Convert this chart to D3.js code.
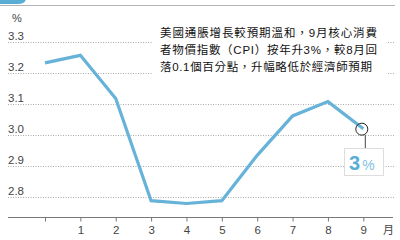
<!DOCTYPE html>
<html>
<head>
<meta charset="utf-8">
<script src="https://cdn.jsdelivr.net/npm/d3@7"></script>
<style>
  body { margin: 0; background: #fff; }
  text { font-family: "Liberation Sans", "Noto Sans CJK TC", sans-serif; }
</style>
</head>
<body>
<div id="chart"></div>
<script>
// Data: core CPI y/y, %, month 0 = previous December
var months = [0, 1, 2, 3, 4, 5, 6, 7, 8, 9];
var cpiValues = [3.233, 3.257, 3.118, 2.789, 2.780, 2.789, 2.935, 3.062, 3.108, 3.021];
var yTicks = [2.8, 2.9, 3.0, 3.1, 3.2, 3.3];
var yTickLabels = ["2.8", "2.9", "3.0", "3.1", "3.2", "3.3"];
var monthLabels = ["", "1", "2", "3", "4", "5", "6", "7", "8", "9"];
var noteLines = [
  "美國通脹增長較預期溫和，9月核心消費",
  "者物價指數（CPI）按年升3%，較8月回",
  "落0.1個百分點，升幅略低於經濟師預期"
];
var calloutValue = "3";

var svgWidth = 400;
var svgHeight = 240;

var svg = d3.select("#chart")
  .append("svg")
  .attr("width", svgWidth)
  .attr("height", svgHeight);

// Scales
var xScale = d3.scaleLinear().domain([0, 9]).range([45, 363.3]);
var yScale = d3.scaleLinear().domain([2.8, 3.3]).range([197.3, 42]);

var lineColor = "#66b2d8";

// Header decoration: blue tab and rule
svg.append("path")
  .attr("d", "M0,-10 H26 V-2 Q26,4 18,4 H0 Z")
  .attr("fill", "#5aaed6");
svg.append("line")
  .attr("x1", 0).attr("x2", 395)
  .attr("y1", 5.5).attr("y2", 5.5)
  .attr("stroke", "#b5b5b5")
  .attr("stroke-width", 1);

// Unit label
svg.append("text")
  .attr("x", 12).attr("y", 22)
  .attr("font-size", 11)
  .attr("fill", "#444")
  .text("%");

// Gridlines and y labels
svg.append("g").selectAll("line")
  .data(yTicks)
  .join("line")
  .attr("x1", 8).attr("x2", 395)
  .attr("y1", d => Math.round(yScale(d)) + 0.5)
  .attr("y2", d => Math.round(yScale(d)) + 0.5)
  .attr("stroke", "#aaa")
  .attr("stroke-width", 1)
  .attr("stroke-dasharray", "1,1.5");

svg.append("g").selectAll("text")
  .data(yTicks)
  .join("text")
  .attr("x", 8)
  .attr("y", d => yScale(d) - 2.5)
  .attr("font-size", 11.5)
  .attr("fill", "#444")
  .text((d, i) => yTickLabels[i]);

// Note box (white backdrop hides gridlines)
svg.append("rect")
  .attr("x", 152).attr("y", 19)
  .attr("width", 236).attr("height", 60)
  .attr("fill", "#fff");

svg.append("g").selectAll("text")
  .data(noteLines)
  .join("text")
  .attr("x", 160)
  .attr("y", (d, i) => 36.5 + i * 17)
  .attr("font-size", 11.5)
  .attr("fill", "#111")
  .attr("textLength", (d, i) => i < 2 ? 217 : 212)
  .attr("lengthAdjust", "spacing")
  .text(d => d);

// X axis
svg.append("line")
  .attr("x1", 8).attr("x2", 393)
  .attr("y1", 217.5).attr("y2", 217.5)
  .attr("stroke", "#777")
  .attr("stroke-width", 1);

var bottomAxis = d3.axisBottom(xScale)
  .tickValues(months)
  .tickSize(4)
  .tickPadding(4)
  .tickFormat((d, i) => monthLabels[i]);

var xAxisGroup = svg.append("g")
  .attr("transform", "translate(0, 217.5)")
  .call(bottomAxis);
xAxisGroup.select(".domain").remove();
xAxisGroup.selectAll(".tick line").attr("stroke", "#777");
xAxisGroup.selectAll(".tick text")
  .attr("font-size", 11.5)
  .attr("font-family", "Liberation Sans, sans-serif")
  .attr("fill", "#444");

svg.append("text")
  .attr("x", 383).attr("y", 234)
  .attr("font-size", 11)
  .attr("fill", "#444")
  .text("月");

// Line
var lineGen = d3.line()
  .x((d, i) => xScale(months[i]))
  .y(d => yScale(d));

svg.append("path")
  .datum(cpiValues)
  .attr("d", lineGen)
  .attr("fill", "none")
  .attr("stroke", lineColor)
  .attr("stroke-width", 3.2)
  .attr("stroke-linejoin", "miter");

// Callout on last point
var lastX = xScale(months[months.length - 1]);
var lastY = yScale(cpiValues[cpiValues.length - 1]);

svg.append("circle")
  .attr("cx", lastX - 1.5).attr("cy", lastY + 0.5)
  .attr("r", 6)
  .attr("fill", "none")
  .attr("stroke", "#222")
  .attr("stroke-width", 1);

svg.append("line")
  .attr("x1", lastX + 2).attr("x2", lastX + 2)
  .attr("y1", lastY + 6.5).attr("y2", 148)
  .attr("stroke", "#444")
  .attr("stroke-width", 1);

svg.append("rect")
  .attr("x", 344.5).attr("y", 148.5)
  .attr("width", 39).attr("height", 27)
  .attr("fill", "#fff")
  .attr("stroke", "#ddd")
  .attr("stroke-width", 1);

var callout = svg.append("text")
  .attr("x", 349).attr("y", 169.5)
  .attr("fill", "#5aaed6");
callout.append("tspan")
  .attr("font-size", 20)
  .attr("font-weight", "bold")
  .text(calloutValue);
callout.append("tspan")
  .attr("font-size", 14)
  .attr("dx", 2)
  .attr("fill", "#7fc0e0")
  .text("%");
</script>
</body>
</html>
